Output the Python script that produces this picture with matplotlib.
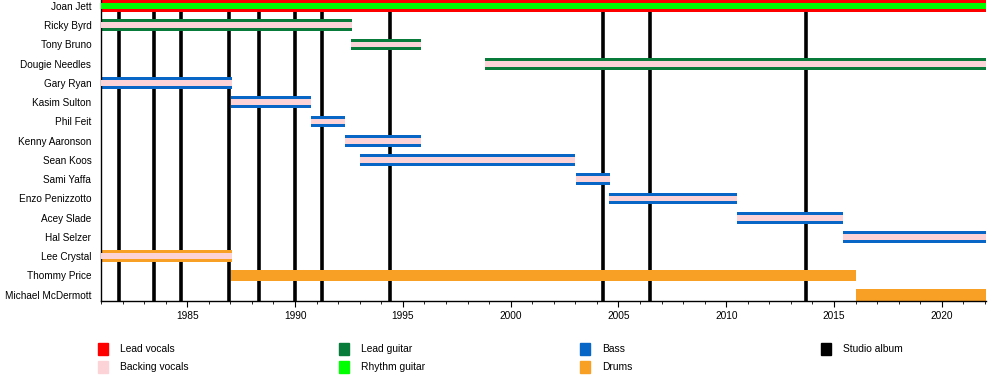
import matplotlib
matplotlib.use('Agg')
import matplotlib.pyplot as plt
from matplotlib.patches import Rectangle
from matplotlib.ticker import MultipleLocator

plt.rcParams['font.family'] = ['Liberation Sans', 'DejaVu Sans']

# Band members, top to bottom
members = ['Joan Jett', 'Ricky Byrd', 'Tony Bruno', 'Dougie Needles', 'Gary Ryan',
           'Kasim Sulton', 'Phil Feit', 'Kenny Aaronson', 'Sean Koos', 'Sami Yaffa',
           'Enzo Penizzotto', 'Acey Slade', 'Hal Selzer', 'Lee Crystal',
           'Thommy Price', 'Michael McDermott']
start = [1981.0, 1981.0, 1992.6, 1998.8, 1981.0,
         1987.05, 1990.72, 1992.32, 1993.0, 2003.02,
         2004.58, 2010.48, 2015.4, 1981.0,
         1987.05, 2016.0]
end = [2022.05, 1992.62, 1995.83, 2022.05, 1987.07,
       1990.73, 1992.33, 1995.83, 2003.0, 2004.6,
       2010.5, 2015.42, 2022.05, 1987.07,
       2016.02, 2022.05]
main_role = ['Lead vocals', 'Lead guitar', 'Lead guitar', 'Lead guitar', 'Bass',
             'Bass', 'Bass', 'Bass', 'Bass', 'Bass',
             'Bass', 'Bass', 'Bass', 'Drums',
             'Drums', 'Drums']
second_role = ['Rhythm guitar', 'Backing vocals', 'Backing vocals', 'Backing vocals', 'Backing vocals',
               'Backing vocals', 'Backing vocals', 'Backing vocals', 'Backing vocals', 'Backing vocals',
               'Backing vocals', 'Backing vocals', 'Backing vocals', 'Backing vocals',
               None, None]

# Studio album release dates
albums = [1981.85, 1983.45, 1984.7, 1986.92, 1988.35, 1990.02,
          1991.27, 1994.42, 2004.3, 2006.45, 2013.72]

roles = ['Lead vocals', 'Backing vocals', 'Lead guitar', 'Rhythm guitar',
         'Bass', 'Drums', 'Studio album']
role_colors = ['#ff0000', '#fcd4d8', '#087a3a', '#00ff00',
               '#0866c6', '#f8a025', '#000000']
colors = dict(zip(roles, role_colors))

fig = plt.figure(figsize=(10, 3.8), dpi=100)
ax = fig.add_axes([0.101, 0.2087, 0.885, 0.7913])

for x in albums:
    ax.axvline(x, color=colors['Studio album'], lw=2.6, zorder=1)

for i, name in enumerate(members):
    ax.barh(i, end[i] - start[i], left=start[i], height=0.62,
            color=colors[main_role[i]], zorder=2)
    if second_role[i]:
        ax.barh(i, end[i] - start[i], left=start[i], height=0.3,
                color=colors[second_role[i]], zorder=3)

ax.set_xlim(1981.0, 2022.05)
ax.set_ylim(len(members) - 1 + 0.31, -0.31)
ax.set_yticks(range(len(members)), members)
ax.tick_params(axis='y', length=0, pad=7, labelsize=7.2)
ax.xaxis.set_major_locator(MultipleLocator(5))
ax.xaxis.set_minor_locator(MultipleLocator(1))
ax.tick_params(axis='x', which='major', length=4, width=0.8, pad=3.5, labelsize=7.3)
ax.tick_params(axis='x', which='minor', length=2.2, width=0.6)
for s in ['top', 'right']:
    ax.spines[s].set_visible(False)
for s in ['left', 'bottom']:
    ax.spines[s].set_linewidth(1.0)

# Legend, laid out in four columns below the chart
col_x = [98, 339, 580, 821]
row_y = [349, 366.5]
for k, (label, c) in enumerate(zip(roles, role_colors)):
    cx = col_x[k // 2]
    ry = row_y[k % 2]
    fig.patches.append(Rectangle((cx / 1000, 1 - (ry + 6) / 380), 10 / 1000, 12 / 380,
                                 transform=fig.transFigure, color=c))
    fig.text((cx + 22) / 1000, 1 - ry / 380, label, fontsize=7.4, va='center', ha='left')

fig.savefig('out.png', dpi=100)
